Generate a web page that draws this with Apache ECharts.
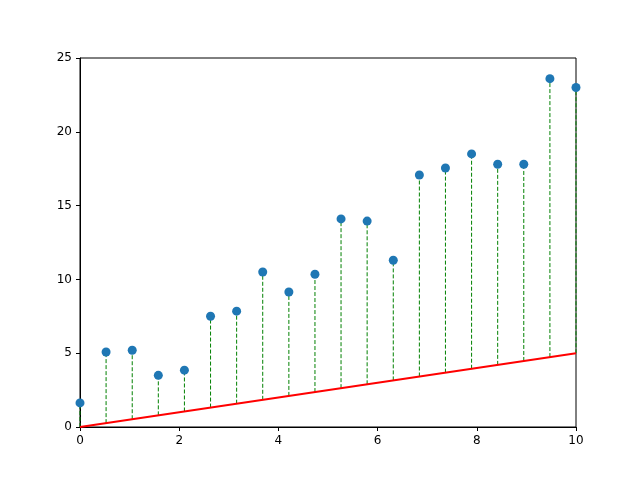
<!DOCTYPE html>
<html><head><meta charset="utf-8">
<script src="https://cdn.jsdelivr.net/npm/echarts@6/dist/echarts.min.js"></script>
<style>html,body{margin:0;padding:0;background:#fff}#c{width:640px;height:480px}</style>
</head><body><div id="c"></div>
<script>
const xs = [0,0.526,1.053,1.579,2.105,2.632,3.158,3.684,4.211,4.737,5.263,5.789,6.316,6.842,7.368,7.895,8.421,8.947,9.474,10];
const ys = [1.63,5.08,5.2,3.5,3.85,7.5,7.85,10.5,9.15,10.35,14.1,13.95,11.3,17.07,17.55,18.5,17.8,17.8,23.6,23.0];
const slope = 0.5;
const lineX = [0,10];
const xTicks = [0,2,4,6,8,10];
const yTicks = [0,5,10,15,20,25];

const pts = xs.map((x,i)=>[x,ys[i]]);
const fit = lineX.map(x=>[x,slope*x]);
const stems = xs.map((x,i)=>[x,slope*x,ys[i]]);
const axisCommon = {
  axisLine:{onZero:false,lineStyle:{color:'#000'}},
  axisTick:{show:true,length:4,inside:false,lineStyle:{color:'#000'}},
  axisLabel:{color:'#000',fontSize:12,fontFamily:'DejaVu Sans'},
  splitLine:{show:false}
};
const chart = echarts.init(document.getElementById('c'));
chart.setOption({
  animation:false,
  grid:{left:80,right:64,top:58,bottom:53,show:true,borderColor:'#000',borderWidth:1},
  xAxis:Object.assign({type:'value',min:0,max:10,interval:2},axisCommon),
  yAxis:Object.assign({type:'value',min:0,max:25,interval:5},axisCommon),
  series:[
    {type:'custom',data:stems,renderItem:function(params,api){
      const a=api.coord([api.value(0),api.value(1)]);
      const b=api.coord([api.value(0),api.value(2)]);
      return {type:'line',shape:{x1:a[0],y1:a[1],x2:b[0],y2:b[1]},
        style:{stroke:'#008000',lineWidth:1,lineDash:[4,2]}};
    },z:1},
    {type:'line',data:fit,showSymbol:false,lineStyle:{color:'#ff0000',width:2},z:2},
    {type:'scatter',data:pts,symbolSize:9,itemStyle:{color:'#1f77b4',opacity:1},z:3}
  ]
});
</script></body></html>
